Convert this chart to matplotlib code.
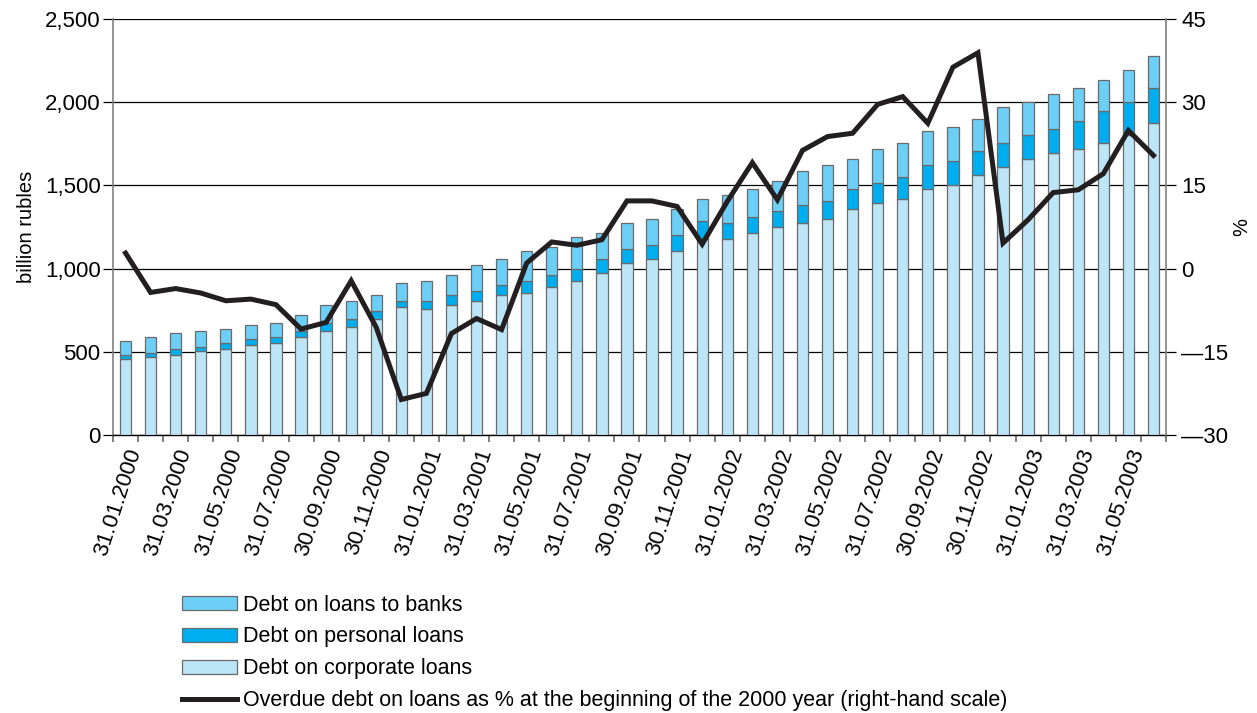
import matplotlib.pyplot as plt
import numpy as np

plt.rcParams['font.family'] = ['Liberation Sans', 'DejaVu Sans']

# ── Palette ──────────────────────────────────────────────────────────────
BANKS = '#6dcff6'
PERSONAL = '#00aeef'
CORP = '#bde5f8'
LINE = '#231f20'
EDGE = '#6a6a6a'

# ── Data (monthly, 31.01.2000 – 30.06.2003) ─────────────────────────────
months = ['31.01.2000', '29.02.2000', '31.03.2000', '30.04.2000', '31.05.2000', '30.06.2000',
          '31.07.2000', '31.08.2000', '30.09.2000', '31.10.2000', '30.11.2000', '31.12.2000',
          '31.01.2001', '28.02.2001', '31.03.2001', '30.04.2001', '31.05.2001', '30.06.2001',
          '31.07.2001', '31.08.2001', '30.09.2001', '31.10.2001', '30.11.2001', '31.12.2001',
          '31.01.2002', '28.02.2002', '31.03.2002', '30.04.2002', '31.05.2002', '30.06.2002',
          '31.07.2002', '31.08.2002', '30.09.2002', '31.10.2002', '30.11.2002', '31.12.2002',
          '31.01.2003', '28.02.2003', '31.03.2003', '30.04.2003', '31.05.2003', '30.06.2003']

corporate = [455, 467, 479, 503, 515, 539, 551, 587, 623, 647, 695, 767,
             755, 779, 803, 839, 852, 888, 924, 972, 1032, 1056, 1104, 1176,
             1176, 1212, 1248, 1272, 1296, 1356, 1392, 1416, 1476, 1500, 1560, 1608,
             1656, 1692, 1716, 1752, 1800, 1872]
personal = [24, 24, 36, 24, 36, 36, 36, 36, 48, 48, 48, 36,
            48, 60, 60, 60, 72, 72, 72, 84, 84, 84, 96, 108,
            96, 96, 96, 108, 108, 120, 120, 132, 144, 144, 144, 144,
            144, 144, 168, 192, 204, 216]
banks = [84, 96, 96, 96, 84, 84, 84, 96, 108, 108, 96, 108,
         120, 120, 156, 156, 180, 168, 192, 156, 156, 156, 160, 132,
         168, 168, 180, 204, 216, 180, 204, 204, 204, 204, 192, 216,
         204, 216, 204, 192, 192, 192]
overdue = [2.8, -4.3, -3.6, -4.4, -5.8, -5.5, -6.5, -10.9, -9.7, -2.2, -10.6, -23.6,
           -22.5, -11.7, -9.0, -11.0, 1.0, 4.8, 4.2, 5.2, 12.2, 12.2, 11.2, 4.4,
           12.1, 19.1, 12.4, 21.3, 23.8, 24.4, 29.6, 31.0, 26.2, 36.3, 38.9, 4.6,
           8.8, 13.7, 14.2, 17.1, 24.9, 20.4]

# ── Figure ───────────────────────────────────────────────────────────────
fig = plt.figure(figsize=(12.57, 7.13), dpi=100)
ax = fig.add_axes([0.0899, 0.3899, 0.8377, 0.5835])
ax2 = ax.twinx()

x = np.arange(len(months))
corp = np.array(corporate)
pers = np.array(personal)
bnk = np.array(banks)

w = 0.45
b_corp = ax.bar(x, corp, w, color=CORP, edgecolor=EDGE, linewidth=0.9, zorder=3)
b_pers = ax.bar(x, pers, w, bottom=corp, color=PERSONAL, edgecolor=EDGE, linewidth=0.9, zorder=3)
b_bank = ax.bar(x, bnk, w, bottom=corp + pers, color=BANKS, edgecolor=EDGE, linewidth=0.9, zorder=3)

ln, = ax2.plot(x, overdue, color=LINE, linewidth=3.6, solid_joinstyle='miter', zorder=5)

# ── Axes formatting ──────────────────────────────────────────────────────
TICK_FS = 16
ax.set_xlim(-0.5, len(months) - 0.5)
ax.set_ylim(0, 2500)
ax.set_yticks(np.arange(0, 2501, 500))
ax.set_yticklabels([f'{v:,}' for v in range(0, 2501, 500)], fontsize=TICK_FS)
ax.yaxis.grid(True, color='black', linewidth=0.9, zorder=0)
ax.set_axisbelow(True)
ax.set_ylabel('billion rubles', fontsize=14.5, labelpad=6)

ax2.set_ylim(-30, 45)
ax2.set_yticks(np.arange(-30, 46, 15))
ax2.set_yticklabels([str(v).replace('-', '\u2014') for v in range(-30, 46, 15)], fontsize=TICK_FS)
ax2.set_ylabel('%', fontsize=14.5, labelpad=3)

# minor ticks at category boundaries, labels on every other month
ax.set_xticks(np.arange(-0.5, len(months), 1), minor=True)
ax.set_xticks(x[::2])
ax.set_xticklabels(months[::2], rotation=72, ha='right', va='top',
                   rotation_mode='anchor', fontsize=TICK_FS)
ax.tick_params(axis='x', which='major', length=0, pad=8)
ax.tick_params(axis='x', which='minor', length=5, color=EDGE, width=1.2)
ax.tick_params(axis='y', length=7, width=0.9, color='black', pad=2)
ax2.tick_params(axis='y', length=7, width=0.9, color='black', pad=4)

for a in (ax, ax2):
    a.spines['top'].set_visible(False)
ax.spines['left'].set_color('#808080')
ax.spines['left'].set_linewidth(1.2)
ax2.spines['left'].set_visible(False)
ax2.spines['right'].set_color('#808080')
ax2.spines['right'].set_linewidth(1.2)
ax.spines['right'].set_visible(False)
ax.spines['bottom'].set_color('black')
ax.spines['bottom'].set_linewidth(1.0)
ax2.spines['bottom'].set_visible(False)

# ── Legend ───────────────────────────────────────────────────────────────
fig.legend([b_bank, b_pers, b_corp, ln],
           ['Debt on loans to banks', 'Debt on personal loans', 'Debt on corporate loans',
            'Overdue debt on loans as % at the beginning of the 2000 year (right-hand scale)'],
           loc='upper left', bbox_to_anchor=(0.1448, 0.166), frameon=False,
           fontsize=15.5, handlelength=2.55, handleheight=0.62, handletextpad=0.28,
           labelspacing=0.5, borderaxespad=0, borderpad=0)

fig.savefig('out.png', dpi=100, facecolor='white')
